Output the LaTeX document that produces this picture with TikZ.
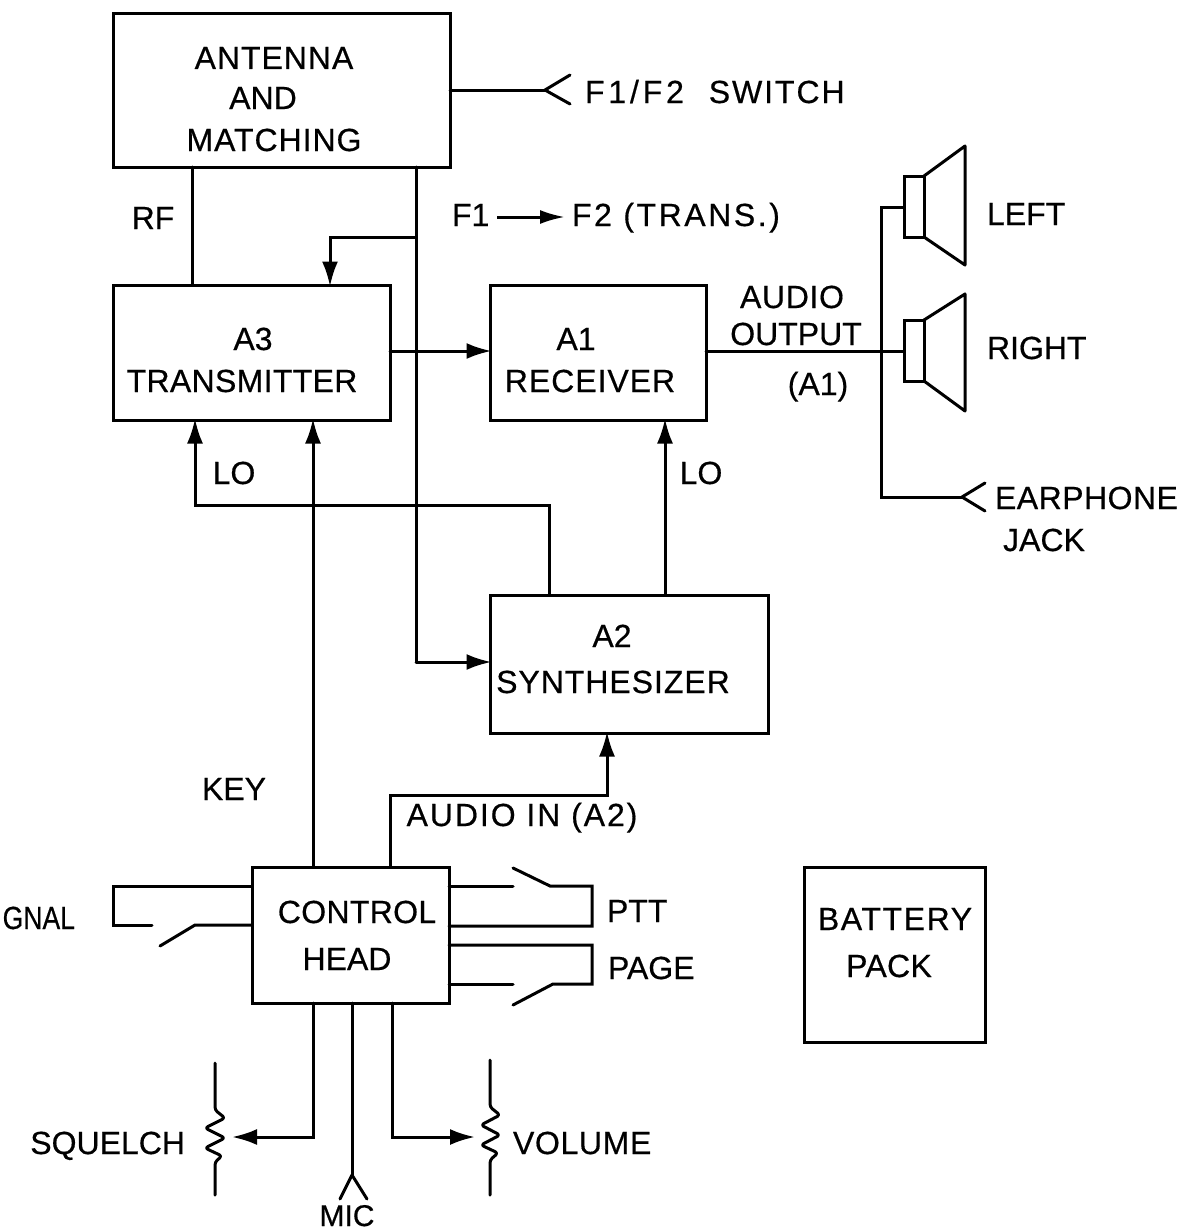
\documentclass[tikz,border=0pt]{standalone}
\usepackage{fontspec}
\setmainfont{Liberation Sans}[FakeBold=0.5]
\usetikzlibrary{arrows.meta}
\newcommand{\bl}[3]{\makebox[0pt]{\hspace*{\dimexpr 2\dimexpr #1pt\relax\relax}\raisebox{\dimexpr -#2pt\relax}[0pt][0pt]{#3}}}
\newcommand{\ls}[2]{{\addfontfeatures{LetterSpace=#1}#2}}
\tikzset{
  ln/.style={line width=3pt,line join=miter,line cap=round},
  boxnode/.style={draw,line width=3pt,inner sep=0pt,outer sep=0pt},
  lbl/.style={inner sep=0pt,outer sep=0pt,font=\fontsize{32}{38}\selectfont},
  arr/.style={ln,-{Latex[length=25pt,width=16pt]},shorten >=-1.5pt},
  thin ln/.style={line width=3pt,line join=round,line cap=round},
}
\begin{document}
\begin{tikzpicture}[x=1pt,y=-1pt,font=\fontsize{32}{38}\selectfont]
\useasboundingbox (0,0) rectangle (1182,1231);
% boxes
\node[boxnode,minimum width=337pt,minimum height=153pt] (ant) at (281.5,90.5) {\bl{-7.5}{-21.5}{\ls{3}{ANTENNA}}\bl{-18.5}{18.5}{AND}\bl{-7.5}{60.5}{\ls{3}{MATCHING}}};
\node[boxnode,minimum width=277pt,minimum height=135pt] (a3) at (251.5,352.5) {\bl{1.5}{-2.5}{A3}\bl{-9.5}{39.5}{\ls{1}{TRANSMITTER}}};
\node[boxnode,minimum width=216pt,minimum height=135pt] (a1) at (598,352.5) {\bl{-22}{-2.5}{A1}\bl{-8}{39.5}{\ls{3}{RECEIVER}}};
\node[boxnode,minimum width=278pt,minimum height=138pt] (a2) at (629,664) {\bl{-17}{-17}{A2}\bl{-16}{29}{\ls{3}{SYNTHESIZER}}};
\node[boxnode,minimum width=197pt,minimum height=136pt] (ctrl) at (350.5,935) {\bl{6.5}{-12}{\ls{1}{CONTROL}}\bl{-3.5}{35}{HEAD}};
\node[boxnode,minimum width=181pt,minimum height=175pt] (batt) at (894.5,954.5) {\bl{0.5}{-24.5}{\ls{5}{BATTERY}}\bl{-5.5}{22.5}{\ls{1}{PACK}}};
% speakers
\node[boxnode,minimum width=20pt,minimum height=61pt] (spkL) at (914,206.5) {};
\node[boxnode,minimum width=20pt,minimum height=61pt] (spkR) at (914,350.5) {};
\draw[thin ln] (spkL.north east) -- (965,146) -- (965,265) -- (spkL.south east);
\draw[thin ln] (spkR.north east) -- (965,294) -- (965,411) -- (spkR.south east);
% labels
\node[lbl,anchor=base west] (sw) at (585,103) {\ls{12}{F1/F2}\hspace{16pt} \ls{6}{SWITCH}};
\node[lbl,anchor=base] (rf) at (153,229) {RF};
\node[lbl,anchor=base west] (f1) at (452,226) {F1};
\node[lbl,anchor=base west] (f2) at (572,226) {\ls{8}{F2 (TRANS.)}};
\node[lbl,anchor=base] (aud) at (792,308) {\ls{2}{AUDIO}};
\node[lbl,anchor=base] (outp) at (796,345) {OUTPUT};
\node[lbl,anchor=base] (a1t) at (818,395) {(A1)};
\node[lbl,anchor=base] (lo3) at (234,484) {LO};
\node[lbl,anchor=base] (lo1) at (701,484) {LO};
\node[lbl,anchor=base] (key) at (234,800) {KEY};
\node[lbl,anchor=base] (ain) at (522,826) {\ls{6}{AUDIO IN (A2)}};
\node[lbl,anchor=base east,xscale=0.83,transform shape] (sig) at (75,929) {GNAL};
\node[lbl,anchor=base west] (ptt) at (607,922) {PTT};
\node[lbl,anchor=base west] (page) at (608,979) {PAGE};
\node[lbl,anchor=base east] (sq) at (185,1154) {SQUELCH};
\node[lbl,anchor=base west] (vol) at (513,1154) {\ls{2}{VOLUME}};
\node[lbl,anchor=base,font=\fontsize{30}{36}\selectfont] (mic) at (347,1226) {MIC};
\node[lbl,anchor=base west] (left) at (987,225) {LEFT};
\node[lbl,anchor=base west] (right) at (987,359) {RIGHT};
\node[lbl,anchor=base west] (ear) at (995,509) {\ls{1.5}{EARPHONE}};
\node[lbl,anchor=base] (jack) at (1044,551) {JACK};
% helper coordinates
\coordinate (jF) at (545,90);
\coordinate (jE) at (962,497);
\coordinate (jM) at (352,1175);
\coordinate (tap) at (416,237);
\coordinate (sqT) at (232,1137);
\coordinate (voT) at (475,1137);
% connectors
\draw[ln] (ant.east |- jF) -- (jF);
\draw[ln] (570,75) -- (jF) -- (570,104);
\draw[ln] (ant.south -| 192,0) -- (a3.north -| 192,0);
\draw[ln] (ant.south -| tap) -- (tap) -- (tap |- 0,662);
\draw[arr] (tap |- 0,662) -- (a2.west |- 0,662);
\draw[arr] (tap) -- (330,237) -- (a3.north -| 330,0);
\draw[arr] (a3.east |- 0,351) -- (a1.west |- 0,351);
\draw[ln] (a1.east |- 0,351) -- (spkR.west |- 0,351);
\draw[ln] (spkL.west |- 0,207) -- (881,207) -- (881,497) -- (jE);
\draw[ln] (985,483) -- (jE) -- (985,511);
\draw[arr] (a2.north -| 665,0) -- (a1.south -| 665,0);
\draw[arr] (a2.north -| 549,0) -- (549,505) -- (195,505) -- (a3.south -| 195,0);
\draw[arr] (ctrl.north -| 313,0) -- (a3.south -| 313,0);
\draw[arr] (ctrl.north -| 390,0) -- (390,795) -- (607,795) -- (a2.south -| 607,0);
\draw[-{Latex[length=25pt,width=14pt]},line width=3pt] ([xshift=8pt]f1.east |- 0,217) -- ([xshift=-7pt]f2.west |- 0,217);
% control head stubs
\draw[ln] (ctrl.west |- 0,886) -- (113,886) -- (113,925) -- (152,925);
\draw[ln] (ctrl.west |- 0,925) -- (195,925) -- (160,946);
\draw[ln] (ctrl.east |- 0,886) -- (513,886);
\draw[ln] (513,868) -- (550,886) -- (592,886) -- (592,926) -- (ctrl.east |- 0,926);
\draw[ln] (ctrl.east |- 0,945) -- (592,945) -- (592,984) -- (553,984) -- (513,1005);
\draw[ln] (ctrl.east |- 0,984) -- (513,984);
% bottom
\draw[arr,shorten >=0pt] (ctrl.south -| 313,0) -- (313,1137) -- (sqT);
\draw[arr,shorten >=0pt] (ctrl.south -| 392,0) -- (392,1137) -- (voT);
\draw[ln] (ctrl.south -| jM) -- (jM);
\draw[thin ln] (340,1199) -- (jM) -- (367,1199);
% potentiometers
\draw[thin ln,rounded corners=3pt] (215,1063) -- (215,1110) -- (225,1118) -- (205,1128) -- (225,1138) -- (205,1148) -- (222,1156) -- (215,1162) -- (215,1195);
\draw[thin ln,rounded corners=3pt] (490,1060) -- (490,1107) -- (500,1115) -- (481,1125) -- (500,1135) -- (481,1145) -- (498,1153) -- (490,1160) -- (490,1195);
\end{tikzpicture}
\end{document}
